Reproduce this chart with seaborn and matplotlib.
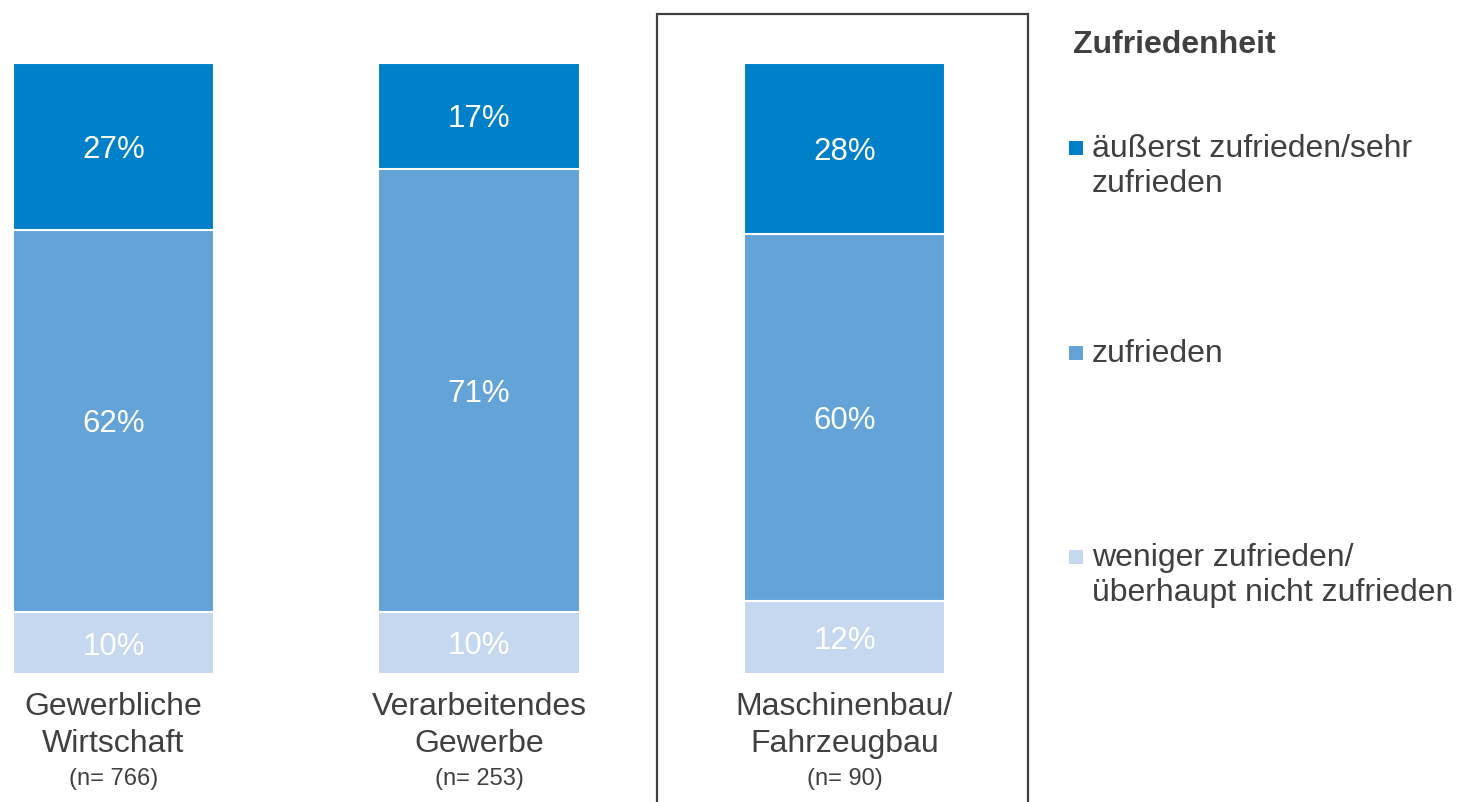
import numpy as np
import pandas as pd
import seaborn as sns
import matplotlib.pyplot as plt
from matplotlib.patches import Rectangle

# daten
branchen = ["Gewerbliche\nWirtschaft", "Verarbeitendes\nGewerbe", "Maschinenbau/\nFahrzeugbau"]
n_werte = ["(n= 766)", "(n= 253)", "(n= 90)"]
sehr_zufrieden = [27, 17, 28]
zufrieden = [62, 71, 60]
weniger_zufrieden = [10, 10, 12]

legende_titel = "Zufriedenheit"
legende = ["äußerst zufrieden/sehr\nzufrieden", "zufrieden", "weniger zufrieden/\nüberhaupt nicht zufrieden"]
farben = ["#0080C8", "#63A3D8", "#C5D8F0"]
textfarbe = "#404040"

sns.set_style("white")
plt.rcParams["font.family"] = ["Liberation Sans", "DejaVu Sans"]

df = pd.DataFrame({"branche": branchen, "oben": sehr_zufrieden,
                   "mitte": zufrieden, "unten": weniger_zufrieden})
summe = df[["oben", "mitte", "unten"]].sum(axis=1)
# balken auf 100% normiert (werte gerundet)
df["unten_n"] = df["unten"] / summe * 100
df["mitte_n"] = df["mitte"] / summe * 100
df["oben_n"] = df["oben"] / summe * 100
df["kum_mitte"] = df["unten_n"] + df["mitte_n"]
df["kum_oben"] = df["kum_mitte"] + df["oben_n"]

W, H = 1458, 802
fig = plt.figure(figsize=(W / 100, H / 100), dpi=100)
ax = fig.add_axes([0, 128 / H, 1060 / W, 611 / H])

# gestapelt durch ueberlagern
for spalte, farbe in zip(["kum_oben", "kum_mitte", "unten_n"], farben):
    sns.barplot(data=df, x="branche", y=spalte, color=farbe, width=0.55,
                saturation=1, edgecolor="white", linewidth=1.5, ax=ax)

ax.set_xlim(-113.5 / 365.5, (1060 - 113.5) / 365.5)
ax.set_ylim(0, 100)
ax.set_xlabel("")
ax.set_ylabel("")
ax.set_yticks([])
sns.despine(ax=ax, left=True, bottom=True)

# werte in den segmenten
for i, row in df.iterrows():
    ax.text(i, row["unten_n"] / 2, f"{row['unten']}%", ha="center", va="center_baseline",
            color="white", fontsize=22.5)
    ax.text(i, row["unten_n"] + row["mitte_n"] / 2, f"{row['mitte']}%", ha="center",
            va="center_baseline", color="white", fontsize=22.5)
    ax.text(i, row["kum_mitte"] + row["oben_n"] / 2, f"{row['oben']}%", ha="center",
            va="center_baseline", color="white", fontsize=22.5)

ax.set_xticks(range(len(branchen)))
ax.set_xticklabels(branchen, fontsize=23, color=textfarbe, linespacing=1.3)
ax.tick_params(axis="x", length=0, pad=13)

for i, n in enumerate(n_werte):
    ax.annotate(n, xy=(i, 0), xycoords=("data", "axes fraction"),
                xytext=(0, -105 * 0.72), textcoords="offset points",
                ha="center", va="center", fontsize=17, color=textfarbe)

# rahmen um maschinenbau
fig.add_artist(Rectangle((657 / W, -0.02), (1028 - 657) / W, 0.02 + (H - 14) / H,
                         transform=fig.transFigure, fill=False,
                         edgecolor=textfarbe, linewidth=1.6))

# legende
fig.text(1073 / W, 1 - 53 / H, legende_titel, fontsize=23, fontweight="bold",
         color=textfarbe, va="baseline", ha="left")
baselines = [157, 362, 566]
for text, farbe, bl in zip(legende, farben, baselines):
    fig.add_artist(Rectangle((1069 / W, 1 - (bl - 2) / H), 14 / W, 14 / H,
                             transform=fig.transFigure, facecolor=farbe,
                             edgecolor="none"))
    zeilen = text.count("\n")
    fig.text(1092 / W, 1 - (bl + 35 * zeilen) / H, text, fontsize=23, color=textfarbe,
             va="baseline", ha="left", linespacing=1.22)

plt.savefig("out.png", dpi=100)
